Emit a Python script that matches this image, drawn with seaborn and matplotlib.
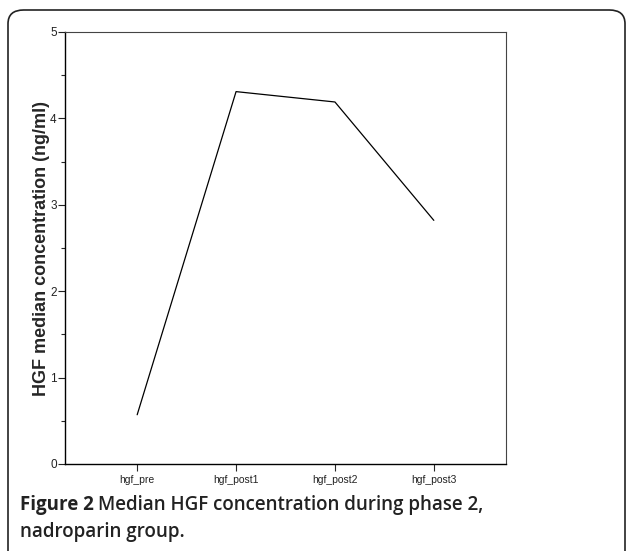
import matplotlib
matplotlib.use("Agg")
import matplotlib.pyplot as plt
import seaborn as sns
import pandas as pd
from matplotlib.patches import FancyBboxPatch
from matplotlib.ticker import MultipleLocator

# Data
timepoints = ["hgf_pre", "hgf_post1", "hgf_post2", "hgf_post3"]
median_hgf = [0.57, 4.31, 4.19, 2.82]

sns.set_theme(style="white")
plt.rcParams['font.family'] = ['Liberation Sans', 'DejaVu Sans']

df = pd.DataFrame({"timepoint": timepoints, "median": median_hgf})
df["pos"] = range(len(df))

fig = plt.figure(figsize=(6.27, 5.51), dpi=100)

# Rounded panel frame around the figure
frame = FancyBboxPatch((8 / 627, -0.05), (625 - 8) / 627, 1 - 10 / 551 + 0.05,
                       boxstyle="round,pad=0,rounding_size=0.025",
                       transform=fig.transFigure, fill=False,
                       edgecolor="#222222", linewidth=1.2, clip_on=False)
fig.patches.append(frame)

ax = fig.add_axes([65 / 627, 1 - 464 / 551, (506 - 65) / 627, (464 - 32) / 551])
sns.lineplot(data=df, x="pos", y="median", color="black", linewidth=0.9, ax=ax)

ax.set_xlim(-0.73, 3.73)
ax.set_ylim(0, 5)
ax.set_xticks(df["pos"])
ax.set_xticklabels(timepoints, fontsize=7.5, color="#222222")
ax.yaxis.set_major_locator(MultipleLocator(1))
ax.yaxis.set_minor_locator(MultipleLocator(0.5))
ax.tick_params(axis="y", which="major", length=5, width=0.8, labelsize=8.5,
               left=True, colors="#222222", pad=1)
ax.tick_params(axis="y", which="minor", length=3, width=0.8, left=True)
ax.tick_params(axis="x", which="major", length=5, width=0.8, bottom=True, pad=3)
ax.set_xlabel("")
ax.set_ylabel("HGF median concentration (ng/ml)", fontsize=13, fontweight="bold",
              labelpad=0)
for side in ["left", "bottom"]:
    ax.spines[side].set_color("black")
    ax.spines[side].set_linewidth(1.0)
for side in ["top", "right"]:
    ax.spines[side].set_color("#444444")
    ax.spines[side].set_linewidth(0.8)

# Caption: bold label followed by semibold text
cap_y = 1 - 505 / 551
lab = fig.text(20 / 627, cap_y, "Figure 2", fontsize=13.5, va="center",
               family="Open Sans", fontweight="bold", color="#222222")
fig.canvas.draw()
bb = lab.get_window_extent(fig.canvas.get_renderer())
fig.text((bb.x1 + 4) / 627, cap_y, "Median HGF concentration during phase 2,",
         fontsize=13.5, va="center", family="Open Sans", fontweight="semibold",
         color="#222222")
fig.text(20 / 627, 1 - 532 / 551, "nadroparin group.", fontsize=13.5, va="center",
         family="Open Sans", fontweight="semibold", color="#222222")

plt.savefig("out.png", dpi=100)
